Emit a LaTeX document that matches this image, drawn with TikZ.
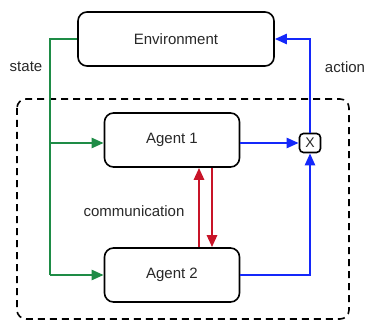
\documentclass[tikz,border=0pt]{standalone}
\usepackage{fontspec}
\setmainfont{Liberation Sans}
\usetikzlibrary{arrows.meta}
\definecolor{ggreen}{RGB}{30,140,70}
\definecolor{bblue}{RGB}{20,40,250}
\definecolor{rred}{RGB}{200,20,40}
\definecolor{txt}{RGB}{40,40,40}
\begin{document}
\begin{tikzpicture}[x=1pt,y=-1pt,
  box/.style={draw=black,line width=1.6pt,rounded corners=9pt,fill=white,text=txt,font=\fontsize{15}{17}\selectfont},
  lbl/.style={text=txt,font=\fontsize{15}{17}\selectfont},
  arr/.style={line width=2.3pt,-{Triangle[length=12pt,width=10pt]}},
  ln/.style={line width=2.3pt}]
\useasboundingbox (0,0) rectangle (366,323);
\draw[dashed,line width=1.6pt,dash pattern=on 7pt off 5pt,rounded corners=9pt] (17,99) rectangle (349,319);
\node[box,minimum width=196pt,minimum height=54pt] (env) at (176,39) {Environment};
\node[box,minimum width=135pt,minimum height=54pt] (a1) at (172,140) {Agent 1};
\node[box,minimum width=135pt,minimum height=54pt] (a2) at (172,275) {Agent 2};
\node[draw=black,line width=1.6pt,rounded corners=4pt,minimum width=21pt,minimum height=19pt,inner sep=0pt,text=txt,font=\fontsize{14}{16}\selectfont] (x) at (310,143) {X};
\coordinate (g0) at (50,39);
\coordinate (g1) at (50,143);
\coordinate (g2) at (50,275);
\coordinate (b0) at (310,39);
\coordinate (b2) at (310,275);
\draw[ln,ggreen] (env.west |- g0) -- (g0) -- (g2);
\draw[arr,ggreen] (g1) -- (a1.west |- g1);
\draw[arr,ggreen] (g2) -- (a2.west |- g2);
\draw[arr,bblue] (a1.east |- x) -- (x.west);
\draw[arr,bblue] (a2.east) -- (b2) -- (x.south);
\draw[arr,bblue] (x.north) -- (b0) -- (env.east |- b0);
\draw[arr,rred,line width=2.6pt] ([xshift=27pt]a2.north) -- ([xshift=27pt]a1.south);
\draw[arr,rred,line width=2.6pt] ([xshift=40pt]a1.south) -- ([xshift=40pt]a2.north);
\node[lbl] (st) at (26,67) {state};
\node[lbl] (ac) at (345,67) {action};
\node[lbl] (cm) at (134,211) {communication};
\end{tikzpicture}
\end{document}
